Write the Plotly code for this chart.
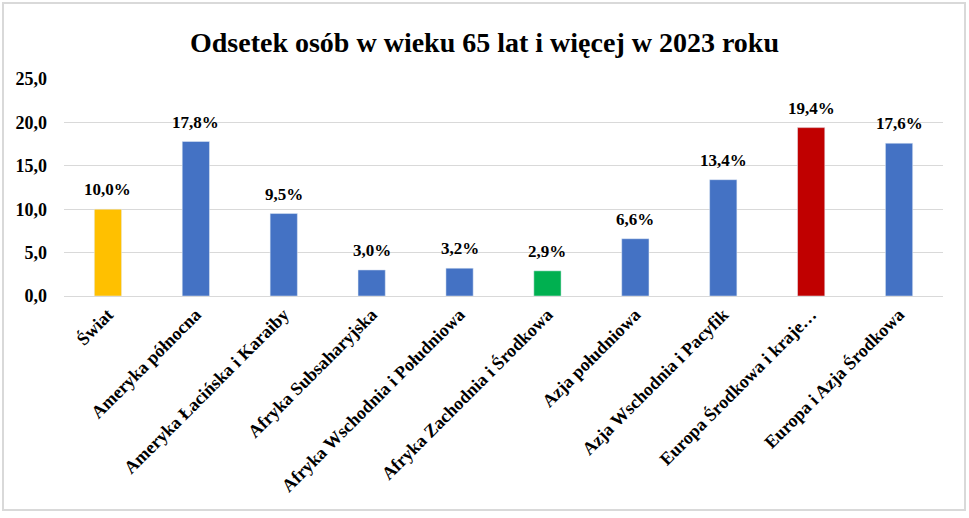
import plotly.graph_objects as go

categories = ["Świat", "Ameryka północna", "Ameryka Łacińska i Karaiby", "Afryka Subsaharyjska",
              "Afryka Wschodnia i Południowa", "Afryka Zachodnia i Środkowa", "Azja południowa",
              "Azja Wschodnia i Pacyfik", "Europa Środkowa i kraje…", "Europa i Azja Środkowa"]
values = [10.0, 17.8, 9.5, 3.0, 3.2, 2.9, 6.6, 13.4, 19.4, 17.6]
colors = ["#FFC000", "#4472C4", "#4472C4", "#4472C4", "#4472C4", "#00B050", "#4472C4",
          "#4472C4", "#C00000", "#4472C4"]
labels = [f"{v:.1f}%".replace(".", ",") for v in values]
tickvals = [0, 5, 10, 15, 20, 25]
ticktext = [f"{t:.1f}".replace(".", ",") for t in tickvals]

font = "Liberation Serif, Times New Roman, serif"

fig = go.Figure(go.Bar(
    x=categories, y=values, marker_color=colors, width=0.31,
    cliponaxis=False,
))

for c, v, t in zip(categories, values, labels):
    fig.add_annotation(x=c, y=v, text=f"<b>{t}</b>", showarrow=False,
                       yanchor="bottom", yshift=8,
                       font=dict(family=font, size=17, color="#000000"))

L, R, T, B = 64, 943, 79, 296
W, H = R - L, B - T

fig.update_layout(
    width=969, height=518,
    paper_bgcolor="white", plot_bgcolor="white",
    margin=dict(l=L, r=969 - R, t=T, b=518 - B, autoexpand=False),
    title=dict(text="<b>Odsetek osób w wieku 65 lat i więcej w 2023 roku</b>",
               x=0.5, xanchor="center", y=1 - 42 / 518, yanchor="middle",
               font=dict(family=font, size=28, color="#000000")),
    font=dict(family=font, size=18, color="#000000"),
    showlegend=False,
)
fig.update_xaxes(tickangle=-45, showline=True, linecolor="#D9D9D9", linewidth=1,
                 automargin=False, ticks="",
                 tickvals=categories, ticktext=[f"<b>{c}</b>" for c in categories],
                 tickfont=dict(family=font, size=18, color="#000000"))
fig.update_yaxes(range=[0, 25], tickvals=tickvals, ticktext=[f"<b>{t}</b>" for t in ticktext],
                 showgrid=True, gridcolor="#D9D9D9", gridwidth=1, zeroline=False, showline=False,
                 automargin=False, ticks="", ticklabelstandoff=16,
                 tickfont=dict(family=font, size=18, color="#000000"))

# Chart border
fig.add_shape(type="rect", xref="paper", yref="paper",
              x0=(3 - L) / W, x1=(965 - L) / W, y0=-(510 - B) / H, y1=(B - 3) / H,
              line=dict(color="#D9D9D9", width=2), fillcolor="rgba(0,0,0,0)")

fig.write_html("out.html", config={"displayModeBar": False},
               post_script="document.body.style.margin='0';")
